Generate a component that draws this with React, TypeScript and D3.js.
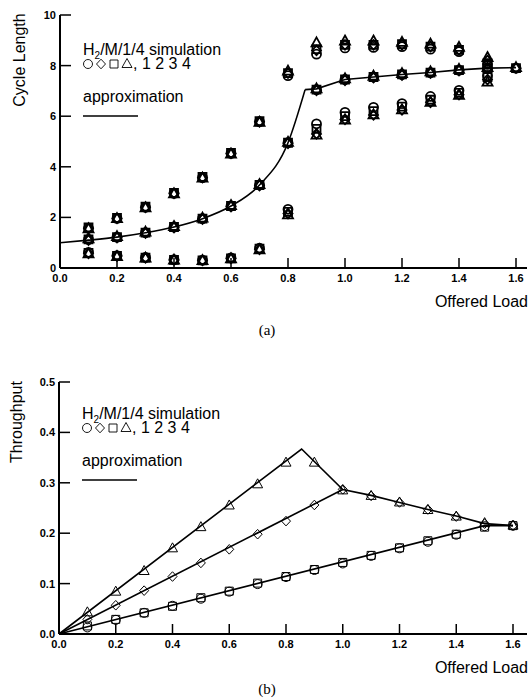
import React, { useEffect, useRef } from "react";
import * as d3 from "d3";

// offered load values used in both panels
const loads = [0.1, 0.2, 0.3, 0.4, 0.5, 0.6, 0.7, 0.8, 0.9, 1.0, 1.1, 1.2, 1.3, 1.4, 1.5, 1.6];

// (a) cycle length, simulation: upper / middle / lower branch per symbol (null = no point)
const cycHiCircle = [1.57, 1.96, 2.4, 2.95, 3.57, 4.53, 5.78, 7.6, 8.45, 8.7, 8.72, 8.75, 8.65, 8.55, 8.05, null];
const cycHiDiamond = [1.57, 1.96, 2.4, 2.95, 3.57, 4.53, 5.78, 7.7, 8.6, 8.82, 8.82, 8.82, 8.75, 8.62, 8.2, null];
const cycHiSquare = [1.6, 1.98, 2.42, 2.97, 3.6, 4.55, 5.8, 7.7, 8.65, 8.82, 8.82, 8.85, 8.75, 8.62, 8.1, null];
const cycHiTriangle = [1.55, 1.95, 2.38, 2.93, 3.55, 4.5, 5.76, 7.78, 8.9, 8.97, 8.97, 8.92, 8.85, 8.72, 8.32, null];

const cycMidCircle = [1.13, 1.22, 1.4, 1.62, 1.95, 2.45, 3.28, 4.95, 7.05, 7.45, 7.55, 7.65, 7.72, 7.82, 7.9, 7.9];
const cycMidDiamond = [1.1, 1.2, 1.38, 1.6, 1.93, 2.43, 3.26, 4.93, 7.02, 7.42, 7.52, 7.62, 7.7, 7.8, 7.88, 7.9];
const cycMidSquare = [1.13, 1.22, 1.4, 1.62, 1.95, 2.45, 3.28, 4.95, 7.05, 7.45, 7.55, 7.65, 7.72, 7.82, 7.9, 7.9];
const cycMidTriangle = [1.15, 1.24, 1.42, 1.64, 1.97, 2.47, 3.3, 4.97, 7.08, 7.48, 7.58, 7.68, 7.75, 7.85, 7.92, 7.92];

const cycLoCircle = [0.62, 0.49, 0.42, 0.33, 0.31, 0.4, 0.78, 2.32, 5.7, 6.15, 6.35, 6.5, 6.78, 7.02, 7.6, null];
const cycLoDiamond = [0.58, 0.47, 0.4, 0.32, 0.3, 0.38, 0.74, 2.15, 5.3, 5.87, 6.05, 6.25, 6.55, 6.85, 7.45, null];
const cycLoSquare = [0.6, 0.48, 0.41, 0.32, 0.3, 0.38, 0.76, 2.22, 5.5, 6.0, 6.2, 6.38, 6.65, 6.92, 7.55, null];
const cycLoTriangle = [0.56, 0.45, 0.39, 0.31, 0.29, 0.36, 0.72, 2.1, 5.25, 5.85, 6.05, 6.25, 6.55, 6.82, 7.35, null];

// (a) approximation: smooth part, then piecewise part
const cycApproxCurveX = [0, 0.1, 0.2, 0.3, 0.4, 0.5, 0.6, 0.7, 0.8, 0.86];
const cycApproxCurveY = [1.0, 1.1, 1.22, 1.39, 1.62, 1.95, 2.45, 3.28, 4.95, 7.05];
const cycApproxLineX = [0.86, 0.9, 1.0, 1.1, 1.2, 1.3, 1.4, 1.5, 1.6];
const cycApproxLineY = [7.05, 7.08, 7.45, 7.55, 7.65, 7.73, 7.83, 7.9, 7.92];

// (b) throughput, simulation
const thrCircle = [0.013, 0.028, 0.042, 0.056, 0.07, 0.084, 0.099, 0.113, 0.127, 0.14, 0.155, 0.17, 0.183, 0.197, 0.214, 0.215];
const thrDiamond = [0.029, 0.057, 0.086, 0.114, 0.141, 0.168, 0.198, 0.224, 0.256, 0.287, 0.274, 0.261, 0.247, 0.233, 0.219, 0.215];
const thrSquare = [0.016, 0.029, 0.042, 0.055, 0.072, 0.085, 0.101, 0.114, 0.128, 0.142, 0.156, 0.171, 0.185, 0.198, 0.212, 0.215];
const thrTriangle = [0.043, 0.084, 0.125, 0.17, 0.212, 0.255, 0.297, 0.34, 0.34, 0.285, 0.274, 0.261, 0.246, 0.233, 0.22, 0.215];

// (b) approximation lines
const thrApproxAX = [0, 0.855, 1.0, 1.1, 1.2, 1.3, 1.4, 1.5, 1.6];
const thrApproxAY = [0, 0.367, 0.2866, 0.275, 0.261, 0.247, 0.234, 0.219, 0.215];
const thrApproxBX = [0, 1.0];
const thrApproxBY = [0, 0.2866];
const thrApproxCX = [0, 1.5, 1.6];
const thrApproxCY = [0, 0.215, 0.215];

const xTicks = [0, 0.2, 0.4, 0.6, 0.8, 1.0, 1.2, 1.4, 1.6];
const cycTicks = [0, 2, 4, 6, 8, 10];
const thrTicks = [0, 0.1, 0.2, 0.3, 0.4, 0.5];

const FONT = "'Liberation Sans', Arial, Helvetica, sans-serif";

function shapePath(kind: string, x: number, y: number) {
  const p = d3.path();
  if (kind === "circle") {
    p.moveTo(x + 4.5, y);
    p.arc(x, y, 4.5, 0, Math.PI * 2);
  } else if (kind === "diamond") {
    p.moveTo(x, y - 4.8); p.lineTo(x + 4.5, y); p.lineTo(x, y + 4.8); p.lineTo(x - 4.5, y); p.closePath();
  } else if (kind === "square") {
    p.rect(x - 4, y - 4, 8, 8);
  } else {
    p.moveTo(x, y - 5.5); p.lineTo(x + 5, y + 3.5); p.lineTo(x - 5, y + 3.5); p.closePath();
  }
  return p.toString();
}

function drawPanel(svg: any, cfg: any) {
  const { x, y, yTicks, yFmt, series, approx, legendX, legendY, yLabel, yLabelX, ylabelY, axisEnd, markStroke } = cfg;
  const g = svg.append("g");

  // approximation lines
  approx.forEach((a: any) => {
    const pts = a.xs.map((v: number, i: number) => [v, a.ys[i]]);
    const line = d3.line().x((d: any) => x(d[0])).y((d: any) => y(d[1])).curve(a.curve || d3.curveLinear);
    g.append("path").attr("d", line(pts)).attr("fill", "none").attr("stroke", "#000").attr("stroke-width", 1.6);
  });

  // simulation markers
  series.forEach((s: any) => {
    const pts = loads.map((l, i) => [l, s.values[i]]).filter((d) => d[1] != null);
    g.selectAll(null).data(pts).join("path")
      .attr("d", (d: any) => shapePath(s.kind, x(d[0]), y(d[1])))
      .attr("fill", "none").attr("stroke", "#000").attr("stroke-width", markStroke);
  });

  // axes
  const x0 = x(0), y0 = y(0);
  g.append("line").attr("x1", x0).attr("x2", x0).attr("y1", y0).attr("y2", y(yTicks[yTicks.length - 1]))
    .attr("stroke", "#000").attr("stroke-width", 2);
  g.append("line").attr("x1", x0).attr("x2", axisEnd).attr("y1", y0).attr("y2", y0)
    .attr("stroke", "#000").attr("stroke-width", 2);

  g.selectAll(null).data(xTicks.slice(1)).join("line")
    .attr("x1", (d: number) => x(d)).attr("x2", (d: number) => x(d)).attr("y1", y0).attr("y2", y0 - 10)
    .attr("stroke", "#000").attr("stroke-width", 1.5);
  g.selectAll(null).data(xTicks).join("text")
    .attr("x", (d: number) => x(d)).attr("y", y0 + 14).attr("text-anchor", "middle")
    .attr("font-family", FONT).attr("font-weight", "bold").attr("font-size", 11)
    .text((d: number) => d3.format(".1f")(d));

  g.selectAll(null).data(yTicks.slice(1)).join("line")
    .attr("x1", x0).attr("x2", x0 + 11).attr("y1", (d: number) => y(d)).attr("y2", (d: number) => y(d))
    .attr("stroke", "#000").attr("stroke-width", 1.5);
  g.selectAll(null).data(yTicks).join("text")
    .attr("x", x0 - 4).attr("y", (d: number) => y(d) + 4).attr("text-anchor", "end")
    .attr("font-family", FONT).attr("font-weight", "bold").attr("font-size", 11)
    .text((d: number) => yFmt(d));

  g.append("text").attr("x", axisEnd + 1).attr("y", y0 + 39).attr("text-anchor", "end")
    .attr("font-family", FONT).attr("font-size", 16).text("Offered Load");

  g.append("text").attr("transform", `translate(${yLabelX},${ylabelY}) rotate(-90)`).attr("text-anchor", "middle")
    .attr("font-family", FONT).attr("font-size", 16).text(yLabel);

  // legend
  const t1 = g.append("text").attr("x", legendX).attr("y", legendY).attr("font-family", FONT).attr("font-size", 16);
  t1.append("tspan").text("H");
  t1.append("tspan").attr("font-size", 10).attr("dy", 4).text("2");
  t1.append("tspan").attr("dy", -4).text("/M/1/4 simulation");
  const lx = legendX;
  const ly = legendY + 9;
  ["circle", "diamond", "square", "triangle"].forEach((k, i) => {
    g.append("path").attr("d", shapePath(k, lx + 5 + i * 13, ly)).attr("fill", "none").attr("stroke", "#000").attr("stroke-width", 0.9);
  });
  g.append("text").attr("x", lx + 50).attr("y", legendY + 14).attr("font-family", FONT).attr("font-size", 16).text(", 1 2 3 4");
  g.append("text").attr("x", legendX).attr("y", legendY + 47).attr("font-family", FONT).attr("font-size", 16).text("approximation");
  g.append("line").attr("x1", legendX).attr("x2", legendX + 55).attr("y1", legendY + 61).attr("y2", legendY + 61)
    .attr("stroke", "#000").attr("stroke-width", 1.6);
}

export default function App() {
  const ref = useRef<SVGSVGElement>(null);

  useEffect(() => {
    const svg = d3.select(ref.current);
    svg.selectAll("*").remove();

    const xa = d3.scaleLinear().domain([0, 1.6]).range([60, 516]);
    const ya = d3.scaleLinear().domain([0, 10]).range([268, 15]);
    drawPanel(svg, {
      x: xa, y: ya, yTicks: cycTicks, yFmt: (d: number) => String(d),
      series: [
        { kind: "circle", values: cycHiCircle }, { kind: "diamond", values: cycHiDiamond },
        { kind: "square", values: cycHiSquare }, { kind: "triangle", values: cycHiTriangle },
        { kind: "circle", values: cycMidCircle }, { kind: "diamond", values: cycMidDiamond },
        { kind: "square", values: cycMidSquare }, { kind: "triangle", values: cycMidTriangle },
        { kind: "circle", values: cycLoCircle }, { kind: "diamond", values: cycLoDiamond },
        { kind: "square", values: cycLoSquare }, { kind: "triangle", values: cycLoTriangle },
      ],
      approx: [
        { xs: cycApproxCurveX, ys: cycApproxCurveY, curve: d3.curveMonotoneX },
        { xs: cycApproxLineX, ys: cycApproxLineY },
      ],
      legendX: 83, legendY: 55, yLabel: "Cycle Length", yLabelX: 25, ylabelY: 60, axisEnd: 527, markStroke: 1.8,
    });

    const xb = d3.scaleLinear().domain([0, 1.6]).range([59, 513]);
    const yb = d3.scaleLinear().domain([0, 0.5]).range([634, 382]);
    drawPanel(svg, {
      x: xb, y: yb, yTicks: thrTicks, yFmt: d3.format(".1f"),
      series: [
        { kind: "circle", values: thrCircle }, { kind: "diamond", values: thrDiamond },
        { kind: "square", values: thrSquare }, { kind: "triangle", values: thrTriangle },
      ],
      approx: [
        { xs: thrApproxAX, ys: thrApproxAY },
        { xs: thrApproxBX, ys: thrApproxBY },
        { xs: thrApproxCX, ys: thrApproxCY },
      ],
      legendX: 82, legendY: 419, yLabel: "Throughput", yLabelX: 22, ylabelY: 422, axisEnd: 527, markStroke: 1,
    });

    svg.append("text").attr("x", 267).attr("y", 335).attr("text-anchor", "middle")
      .attr("font-family", "'Liberation Serif', 'Times New Roman', serif").attr("font-size", 15).text("(a)");
    svg.append("text").attr("x", 267).attr("y", 694).attr("text-anchor", "middle")
      .attr("font-family", "'Liberation Serif', 'Times New Roman', serif").attr("font-size", 15).text("(b)");
  }, []);

  return (
    <svg ref={ref} width={531} height={698}
      style={{ position: "absolute", left: 0, top: 0, display: "block", background: "#fff" }} />
  );
}
